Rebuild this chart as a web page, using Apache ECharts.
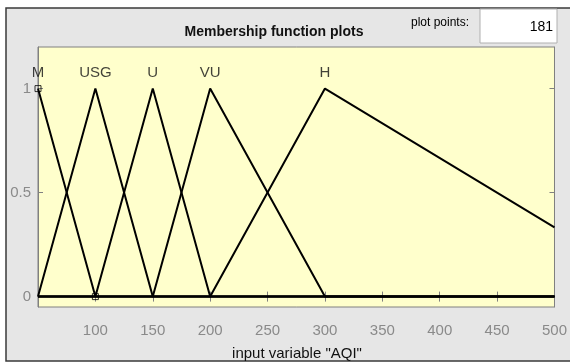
<!DOCTYPE html>
<html><head><meta charset="utf-8">
<script src="https://cdn.jsdelivr.net/npm/echarts@6/dist/echarts.min.js"></script>
<style>html,body{margin:0;padding:0;background:#fff}#c{width:570px;height:363px}</style>
</head><body><div id="c"></div>
<script>
const mfNames = ['M', 'USG', 'U', 'VU', 'H'];
const mfX = [
  [50, 100, 500],
  [50, 100, 150, 500],
  [50, 100, 150, 200, 500],
  [50, 150, 200, 300, 500],
  [50, 200, 300, 500]
];
const mfY = [
  [1, 0, 0],
  [0, 1, 0, 0],
  [0, 0, 1, 0, 0],
  [0, 0, 1, 0, 0],
  [0, 0, 1, 0.333]
];
const mfPeakX = [50, 100, 150, 200, 300];
const markerX = [50, 100];
const markerY = [1, 0];
const xTicks = [100, 150, 200, 250, 300, 350, 400, 450, 500];
const yTicks = [0, 0.5, 1];
const titleText = 'Membership function plots';
const xName = 'input variable "AQI"';
const plotPoints = '181';

const chart = echarts.init(document.getElementById('c'), null, {renderer: 'canvas'});
const FONT = '"Liberation Sans", Arial, sans-serif';
const lineSeries = mfNames.map((n, i) => ({
  type: 'line', name: n, xAxisIndex: 0, yAxisIndex: 0,
  data: mfX[i].map((x, j) => [x, mfY[i][j]]),
  symbol: 'none', silent: true, z: 3,
  lineStyle: {color: '#000', width: 2}
}));
const labelSeries = {
  type: 'scatter', xAxisIndex: 0, yAxisIndex: 0, symbolSize: 0, z: 5,
  data: mfNames.map((n, i) => ({name: n, value: [mfPeakX[i], 1]})),
  label: {show: true, position: 'top', distance: 8, formatter: p => p.name,
    color: '#111', fontFamily: FONT, fontSize: 15}
};
const markerSeries = {
  type: 'scatter', xAxisIndex: 0, yAxisIndex: 0, symbol: 'rect', symbolSize: 6, z: 6,
  data: markerX.map((x, i) => [x, markerY[i]]),
  itemStyle: {color: 'rgba(0,0,0,0)', borderColor: '#000', borderWidth: 1}
};
const tickStyle = {show: true, inside: true, length: 5, lineStyle: {color: '#808080'}};
const axisLine = {show: true, lineStyle: {color: '#808080', width: 1}};
const option = {
  animation: false,
  backgroundColor: '#fff',
  graphic: [
    {type: 'rect', shape: {x: 6, y: 8, width: 570, height: 353}, style: {fill: '#e6e6e6', stroke: '#3a3a3a', lineWidth: 1.5}, z: -10},
    {type: 'rect', shape: {x: 480, y: 9, width: 77, height: 34}, style: {fill: '#fff', stroke: '#b0b0b0', lineWidth: 1}, z: 10},
    {type: 'text', x: 440, y: 23, style: {text: 'plot points:', fill: '#000', font: '12px ' + FONT, textAlign: 'center', textVerticalAlign: 'middle'}, z: 10},
    {type: 'text', x: 553, y: 27, style: {text: plotPoints, fill: '#000', font: '14px ' + FONT, textAlign: 'right', textVerticalAlign: 'middle'}, z: 11},
    {type: 'text', x: 274, y: 32, style: {text: titleText, fill: '#111', font: 'bold 14px ' + FONT, textAlign: 'center', textVerticalAlign: 'middle'}, z: 10},
    {type: 'text', x: 297, y: 354, style: {text: xName, fill: '#111', font: '15px ' + FONT, textAlign: 'center', textVerticalAlign: 'middle'}, z: 10}
  ],
  grid: {left: 38, right: 13, top: 47, bottom: 56, show: true, backgroundColor: '#ffffcc', borderColor: '#808080', borderWidth: 1},
  xAxis: [
    {type: 'value', position: 'bottom', min: 50, max: 500, interval: 50,
      axisLine: axisLine, splitLine: {show: false},
      axisTick: Object.assign({}, tickStyle, {customValues: xTicks}),
      axisLabel: {customValues: xTicks, color: '#8a8a8a', fontFamily: FONT, fontSize: 15, margin: 16}},
    {type: 'value', position: 'top', min: 50, max: 500, interval: 50,
      axisLine: axisLine, splitLine: {show: false},
      axisTick: Object.assign({}, tickStyle, {customValues: xTicks}),
      axisLabel: {show: false}}
  ],
  yAxis: [
    {type: 'value', position: 'left', min: -0.05, max: 1.2,
      axisLine: axisLine, splitLine: {show: false},
      axisTick: Object.assign({}, tickStyle, {customValues: yTicks}),
      axisLabel: {customValues: yTicks, color: '#8a8a8a', fontFamily: FONT, fontSize: 15, margin: 7,
        formatter: v => String(v)}},
    {type: 'value', position: 'right', min: -0.05, max: 1.2,
      axisLine: axisLine, splitLine: {show: false},
      axisTick: Object.assign({}, tickStyle, {customValues: yTicks}),
      axisLabel: {show: false}}
  ],
  series: lineSeries.concat([labelSeries, markerSeries])
};
chart.setOption(option);
</script></body></html>
